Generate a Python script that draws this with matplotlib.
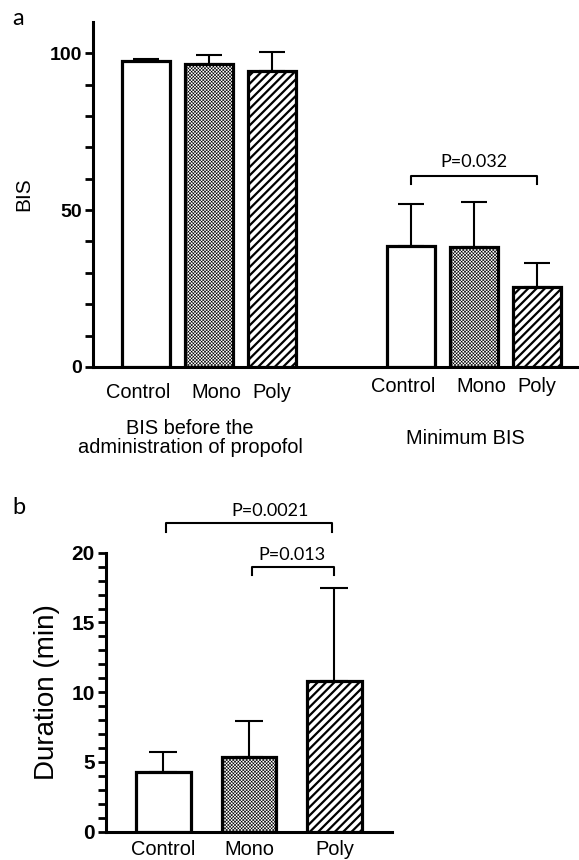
import matplotlib
matplotlib.use('Agg')
import matplotlib.pyplot as plt
import numpy as np

plt.rcParams['font.family'] = ['Liberation Sans', 'DejaVu Sans']

# data
groups = ['Control', 'Mono', 'Poly']
bis_before_mean = [97.4, 96.5, 94.3]
bis_before_sd = [0.8, 2.9, 6.1]
bis_min_mean = [38.7, 38.1, 25.6]
bis_min_sd = [13.1, 14.6, 7.7]
dur_mean = [4.3, 5.33, 10.8]
dur_sd = [1.43, 2.63, 6.65]

p_min = 'P=0.032'
p_dur = ['P=0.0021', 'P=0.013']

hatches = ['', 'xxxxxxxxxx', '////']
hatch_lw = [1.0, 0.42, 1.6]

fig = plt.figure(figsize=(5.79, 8.6), dpi=100)


def draw_bars(ax, x, means, sds, width, capsize):
    for i in range(len(x)):
        with plt.rc_context({'hatch.linewidth': hatch_lw[i]}):
            ax.bar(x[i], means[i], width=width, color='white', edgecolor='black',
                   linewidth=2.3, hatch=hatches[i], zorder=3)
    ax.errorbar(x, means, yerr=[np.zeros(len(x)), sds], fmt='none', ecolor='black',
                elinewidth=1.5, capsize=capsize, capthick=1.5, zorder=2)


def style_axis(ax):
    for s in ['top', 'right']:
        ax.spines[s].set_visible(False)
    for s in ['left', 'bottom']:
        ax.spines[s].set_linewidth(2.2)
    ax.tick_params(axis='y', which='both', length=6, width=2.0, pad=2)
    ax.tick_params(axis='x', length=0)


def bracket(ax, x1, x2, y, drop, text, tx, ty):
    ax.plot([x1, x1, x2, x2], [y - drop, y, y, y - drop], color='black', lw=1.5,
            clip_on=False, zorder=4)
    ax.text(tx, ty, text, ha='center', va='center', fontsize=13, family='Lato')


# ---- panel a ----
ax1 = fig.add_axes([0.1606, 0.5733, 0.8394, 0.4012])
xa_left = np.array([0.0, 1.0, 2.0])
xa_right = np.array([4.2, 5.2, 6.2])
draw_bars(ax1, xa_left, bis_before_mean, bis_before_sd, 0.76, 9.5)
draw_bars(ax1, xa_right, bis_min_mean, bis_min_sd, 0.76, 9.5)
ax1.set_xlim(-0.84, 6.87)
ax1.set_ylim(0, 110)
ax1.set_yticks([0, 50, 100])
ax1.set_yticks(np.arange(0, 101, 10), minor=True)
ax1.set_yticklabels(['0', '50', '100'], fontweight='bold', fontsize=14)
ax1.set_xticks([])
ax1.set_ylabel('BIS', fontsize=15, labelpad=12)
style_axis(ax1)

off = [-0.12, 0.12, 0.0]
for i, g in enumerate(groups):
    ax1.text(xa_left[i] + off[i], -0.075, g, ha='center', va='center', fontsize=14.4,
             transform=ax1.get_xaxis_transform())
    ax1.text(xa_right[i] + off[i], -0.058, g, ha='center', va='center', fontsize=14.4,
             transform=ax1.get_xaxis_transform())
ax1.text(0.70, -0.207, 'BIS before the\nadministration of propofol', ha='center',
         va='center', fontsize=14.4, linespacing=1.0, transform=ax1.get_xaxis_transform())
ax1.text(5.06, -0.208, 'Minimum BIS', ha='center', va='center', fontsize=14.4,
         transform=ax1.get_xaxis_transform())

bracket(ax1, xa_right[0], xa_right[2], 61.0, 2.6, p_min, 5.2, 65.5)
fig.text(0.022, 0.978, 'a', fontsize=17, family='Lato', va='center')

# ---- panel b ----
ax2 = fig.add_axes([0.1831, 0.0329, 0.4939, 0.3244])
xb = np.array([0.0, 1.0, 2.0])
draw_bars(ax2, xb, dur_mean, dur_sd, 0.64, 10)
ax2.set_xlim(-0.672, 2.673)
ax2.set_ylim(0, 20)
ax2.set_yticks([0, 5, 10, 15, 20])
ax2.set_yticks(np.arange(0, 21, 1), minor=True)
ax2.set_yticklabels(['0', '5', '10', '15', '20'], fontweight='bold', fontsize=15)
ax2.set_xticks(xb)
ax2.set_xticklabels(groups, fontsize=14.4)
ax2.tick_params(axis='x', pad=6)
ax2.set_ylabel('Duration (min)', fontsize=20, labelpad=8)
style_axis(ax2)

bracket(ax2, 0.03, 1.97, 22.1, 0.65, p_dur[0], 1.245, 23.0)
bracket(ax2, 1.03, 2.0, 19.0, 0.6, p_dur[1], 1.5, 19.85)
fig.text(0.022, 0.41, 'b', fontsize=17, family='Lato', va='center')

fig.savefig('out.png', dpi=100)
